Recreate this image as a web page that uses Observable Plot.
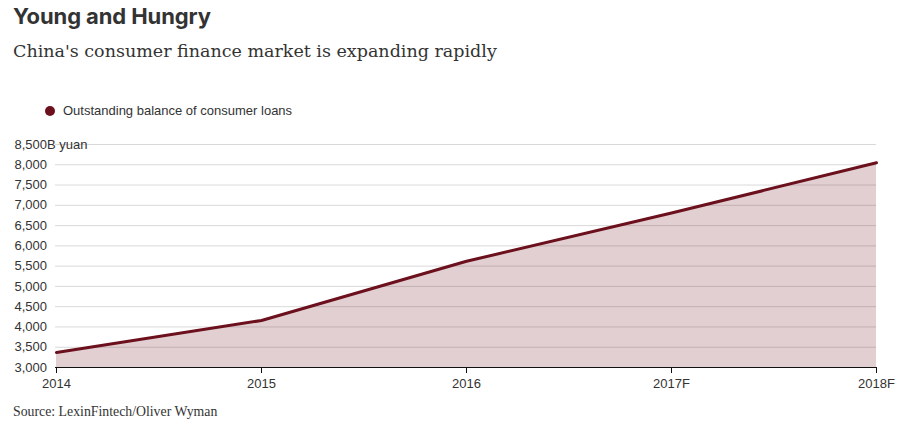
<!DOCTYPE html>
<html>
<head>
<meta charset="utf-8">
<script src="https://cdn.jsdelivr.net/npm/d3@7"></script>
<script src="https://cdn.jsdelivr.net/npm/@observablehq/plot@0.6"></script>
<style>
  html, body { margin: 0; padding: 0; background: #fff; }
  body { width: 912px; height: 434px; position: relative; overflow: hidden; }
  #title { position: absolute; left: 13px; top: 3px; font-family: Inter, "Liberation Sans", sans-serif; font-weight: 700; font-size: 22px; letter-spacing: -0.1px; color: #333; white-space: nowrap; }
  #subtitle { position: absolute; left: 13px; top: 41px; font-family: "DejaVu Serif", serif; font-size: 17.5px; color: #333; white-space: nowrap; }
  #legend { position: absolute; left: 45px; top: 103px; font-family: "Liberation Sans", Arial, sans-serif; font-size: 13px; color: #333; white-space: nowrap; display: flex; align-items: center; }
  #legend .dot { width: 10px; height: 10px; border-radius: 50%; background: #6b101c; margin-right: 8px; }
  #chart { position: absolute; left: 0; top: 130px; }
  #caption { position: absolute; left: 13px; top: 404px; font-family: "Liberation Serif", serif; font-size: 13.8px; color: #333; white-space: nowrap; }
</style>
</head>
<body>
<div id="title">Young and Hungry</div>
<div id="subtitle">China's consumer finance market is expanding rapidly</div>
<div id="legend"><span class="dot"></span><span>Outstanding balance of consumer loans</span></div>
<div id="chart"></div>
<div id="caption">Source: LexinFintech/Oliver Wyman</div>
<script>
const years = ["2014", "2015", "2016", "2017F", "2018F"];
const balances = [3370, 4160, 5620, 6810, 8050];
const yTicks = [3000, 3500, 4000, 4500, 5000, 5500, 6000, 6500, 7000, 7500, 8000, 8500];
const yUnit = "B yuan";
const seriesName = "Outstanding balance of consumer loans";

const lineColor = "#6b101c";
const data = years.map((y, i) => ({year: y, value: balances[i]}));
const yMin = yTicks[0], yMax = yTicks[yTicks.length - 1];

const chart = Plot.plot({
  width: 912,
  height: 265,
  marginTop: 14,
  marginBottom: 28,
  marginLeft: 55,
  marginRight: 36,
  style: {fontFamily: "'Liberation Sans', Arial, sans-serif", fontSize: "13px", color: "#333", background: "transparent"},
  x: {type: "point", domain: years, padding: 0, label: null},
  y: {domain: [yMin, yMax], label: null},
  marks: [
    Plot.ruleY(yTicks.slice(1), {stroke: "#d9d9d9", strokeWidth: 1}),
    Plot.areaY(data, {x: "year", y1: yMin, y2: "value", fill: lineColor, fillOpacity: 0.2, curve: "linear"}),
    Plot.lineY(data, {x: "year", y: "value", stroke: lineColor, strokeWidth: 3, curve: "linear"}),
    Plot.axisY({
      ticks: yTicks,
      tickSize: 0,
      tickPadding: 0,
      textAnchor: "start",
      dx: -41,
      tickFormat: d => d3.format(",")(d) + (d === yMax ? yUnit : ""),
      stroke: "white",
      strokeWidth: 14,
      fill: "#333",
      fontSize: 13
    }),
    Plot.ruleY([yMin], {stroke: "#111", strokeWidth: 1.2}),
    Plot.axisX({
      ticks: years,
      tickSize: 6,
      tickPadding: 5,
      stroke: "#111",
      fill: "#333",
      fontSize: 13
    })
  ]
});
document.getElementById("chart").appendChild(chart);
</script>
</body>
</html>
